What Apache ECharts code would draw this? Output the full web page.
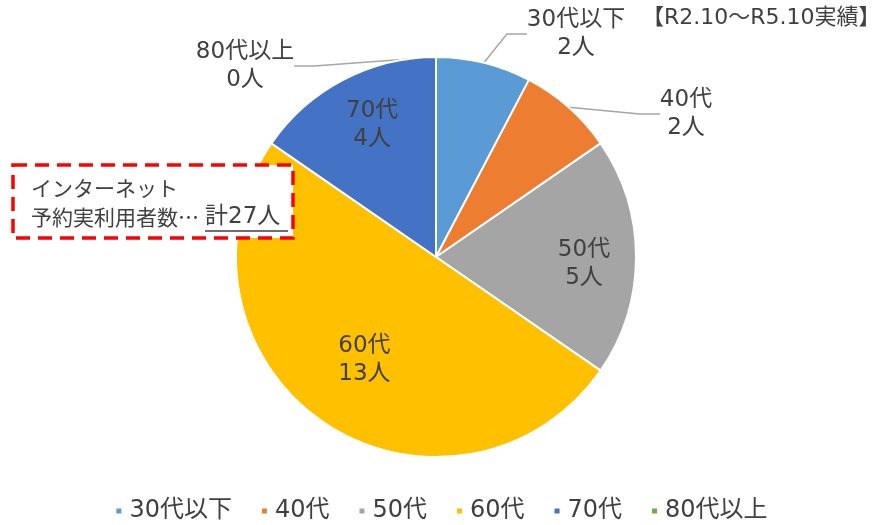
<!DOCTYPE html>
<html>
<head>
<meta charset="utf-8">
<script src="https://cdn.jsdelivr.net/npm/echarts@6/dist/echarts.min.js"></script>
<style>
  html, body { margin: 0; padding: 0; background: #fff; }
  #chart { width: 882px; height: 525px; }
</style>
</head>
<body>
<div id="chart"></div>
<script>
// 年代別 利用者数
var categories = ['30代以下', '40代', '50代', '60代', '70代', '80代以上'];
var counts = [2, 2, 5, 13, 4, 0];
var colors = ['#5B9BD5', '#ED7D31', '#A5A5A5', '#FFC000', '#4472C4', '#70AD47'];
var periodText = '【R2.10～R5.10実績】';
var noteLines = ['インターネット', '予約実利用者数…', '計27人'];

var font = '"DejaVu Sans", "Noto Sans CJK JP", sans-serif';
var cjkFont = '"Noto Sans CJK JP", sans-serif';
var textColor = '#404040';

// label placement (outside ones: center of label block; inside ones: offset)
var outsidePos = { 0: [576, 34], 1: [686, 114], 5: [245, 66] };
var insideOffset = { 2: [45, 7], 3: [-13, 18], 4: [-16, -41] };

var pieData = categories.map(function (name, i) {
    var item = {
        name: name,
        value: counts[i],
        itemStyle: { color: colors[i] }
    };
    if (outsidePos[i]) {
        item.label = { position: 'outside' };
        item.labelLine = { show: true };
    } else {
        item.label = { position: 'inside', offset: insideOffset[i] };
        item.labelLine = { show: false };
    }
    return item;
});

var chart = echarts.init(document.getElementById('chart'));
chart.setOption({
    animation: false,
    textStyle: { fontFamily: font },
    legend: {
        top: 494,
        left: 'center',
        icon: 'rect',
        itemWidth: 7,
        itemHeight: 7,
        itemGap: 28,
        textStyle: { fontSize: 24, color: textColor, fontFamily: font, padding: [0, 0, 0, 2] },
        data: categories
    },
    series: [{
        type: 'pie',
        center: [436, 257],
        radius: 200,
        startAngle: 90,
        clockwise: true,
        avoidLabelOverlap: false,
        itemStyle: { borderColor: '#fff', borderWidth: 2 },
        label: {
            show: true,
            formatter: '{b}\n{c}人',
            fontSize: 23,
            lineHeight: 28,
            color: textColor,
            fontFamily: font,
            align: 'center'
        },
        labelLine: {
            show: true,
            length: 15,
            length2: 20,
            lineStyle: { color: '#A6A6A6', width: 1.5 }
        },
        labelLayout: function (params) {
            var p = outsidePos[params.dataIndex];
            if (!p) return {};
            return { x: p[0], y: p[1], align: 'center', verticalAlign: 'middle' };
        },
        data: pieData
    }],
    graphic: [
        {
            type: 'text',
            left: 642,
            top: 7,
            style: { text: periodText, font: '22px ' + font, fill: textColor }
        },
        {
            type: 'rect',
            shape: { x: 13, y: 165, width: 280, height: 73 },
            style: { fill: '#fff', stroke: '#FF0000', lineWidth: 3.5, lineDash: [14, 8] },
            z: 10
        },
        {
            type: 'text',
            x: 31, y: 178,
            style: { text: noteLines[0], font: '21px ' + cjkFont, fill: textColor },
            z: 11
        },
        {
            type: 'text',
            x: 31, y: 207,
            style: { text: noteLines[1], font: '21px ' + cjkFont, fill: textColor },
            z: 11
        },
        {
            type: 'text',
            x: 205, y: 206,
            style: { text: noteLines[2], font: '23px ' + font, fill: textColor },
            z: 11
        },
        {
            type: 'line',
            shape: { x1: 205, y1: 231, x2: 288, y2: 231 },
            style: { stroke: textColor, lineWidth: 1.5 },
            z: 11
        }
    ]
});
</script>
</body>
</html>
